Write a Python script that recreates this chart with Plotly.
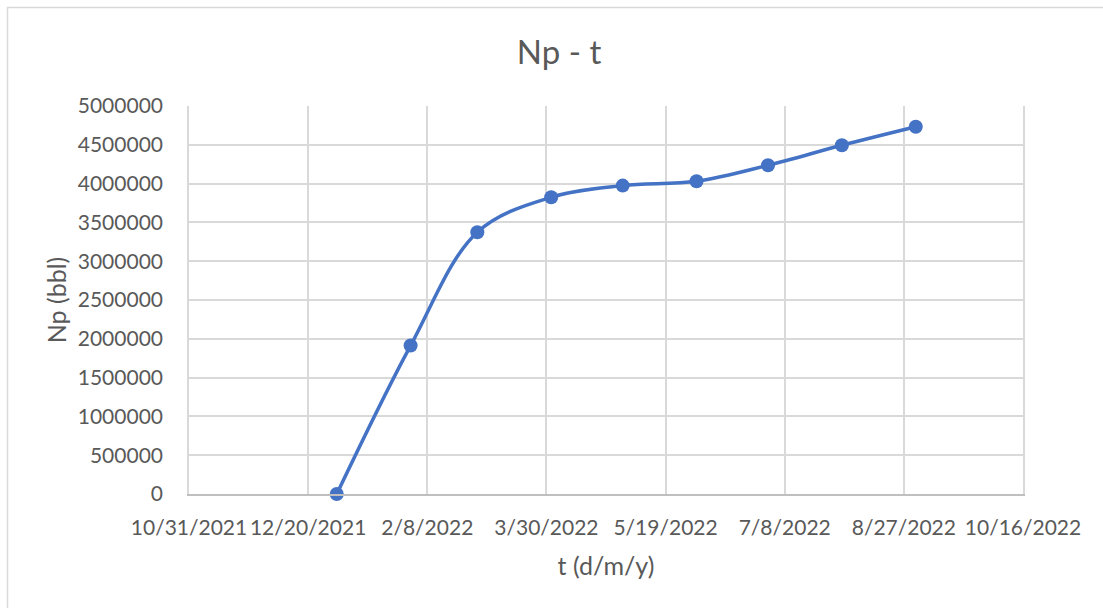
import plotly.graph_objects as go

# Cumulative oil production, sampled on the first day of each month
dates = ["2022-01-01", "2022-02-01", "2022-03-01", "2022-04-01", "2022-05-01",
         "2022-06-01", "2022-07-01", "2022-08-01", "2022-09-01"]
np_bbl = [0, 1913000, 3374000, 3824000, 3974000, 4030000, 4236000, 4494000, 4733000]

x_range = ["2021-10-31", "2022-10-16"]
y_range = [0, 5000000]

W, H = 1103, 608
ML, MR, MT, MB = 189, 80, 106, 114

TEXT = "#595959"
GRID = "#d9d9d9"
BLUE = "#4472C4"
FONT = "Lato, 'Open Sans', sans-serif"

fig = go.Figure(
    go.Scatter(
        x=dates,
        y=np_bbl,
        mode="lines+markers",
        line=dict(color=BLUE, width=3.5, shape="spline", smoothing=1),
        marker=dict(color=BLUE, size=14),
        showlegend=False,
        cliponaxis=False,
    )
)

# Outer chart-area frame (extends past the right and bottom edges of the page)
pw = W - ML - MR
ph = H - MT - MB
fx0 = (7.5 - ML) / pw
fx1 = (W + 10 - ML) / pw
fy1 = 1 + (MT - 7.5) / ph
fy0 = -(MB + 10) / ph
fig.add_shape(type="rect", xref="paper", yref="paper",
              x0=fx0, x1=fx1, y0=fy0, y1=fy1,
              line=dict(color=GRID, width=1.5), layer="below")

fig.update_layout(
    width=W,
    height=H,
    margin=dict(l=ML, r=MR, t=MT, b=MB, pad=0),
    paper_bgcolor="white",
    plot_bgcolor="white",
    font=dict(family=FONT, color=TEXT, size=21),
    title=dict(text="Np - t", xref="container", yref="container",
               x=559 / W, y=1 - 52 / H, xanchor="center", yanchor="middle",
               font=dict(family=FONT, size=33, color=TEXT)),
    xaxis=dict(
        type="date",
        range=x_range,
        tick0="2021-10-31",
        dtick=50 * 86400000,
        tickformat="%-m/%-d/%Y",
        showgrid=True,
        gridcolor=GRID,
        gridwidth=1.6,
        showline=True,
        linecolor="#bfbfbf",
        linewidth=1.6,
        zeroline=False,
        ticks="",
        ticklabelstandoff=14,
        tickfont=dict(size=21, color=TEXT),
        title=dict(text="t (d/m/y)", standoff=19, font=dict(size=25, color=TEXT)),
    ),
    yaxis=dict(
        range=y_range,
        dtick=500000,
        tickformat="d",
        showgrid=True,
        gridcolor=GRID,
        gridwidth=1.6,
        zeroline=False,
        showline=True,
        mirror=True,
        linecolor=GRID,
        linewidth=1.6,
        ticks="",
        ticklabelstandoff=20,
        tickfont=dict(size=21, color=TEXT),
        title=dict(text="Np (bbl)", standoff=4, font=dict(size=25, color=TEXT)),
    ),
)

fig.write_html("out.html")
